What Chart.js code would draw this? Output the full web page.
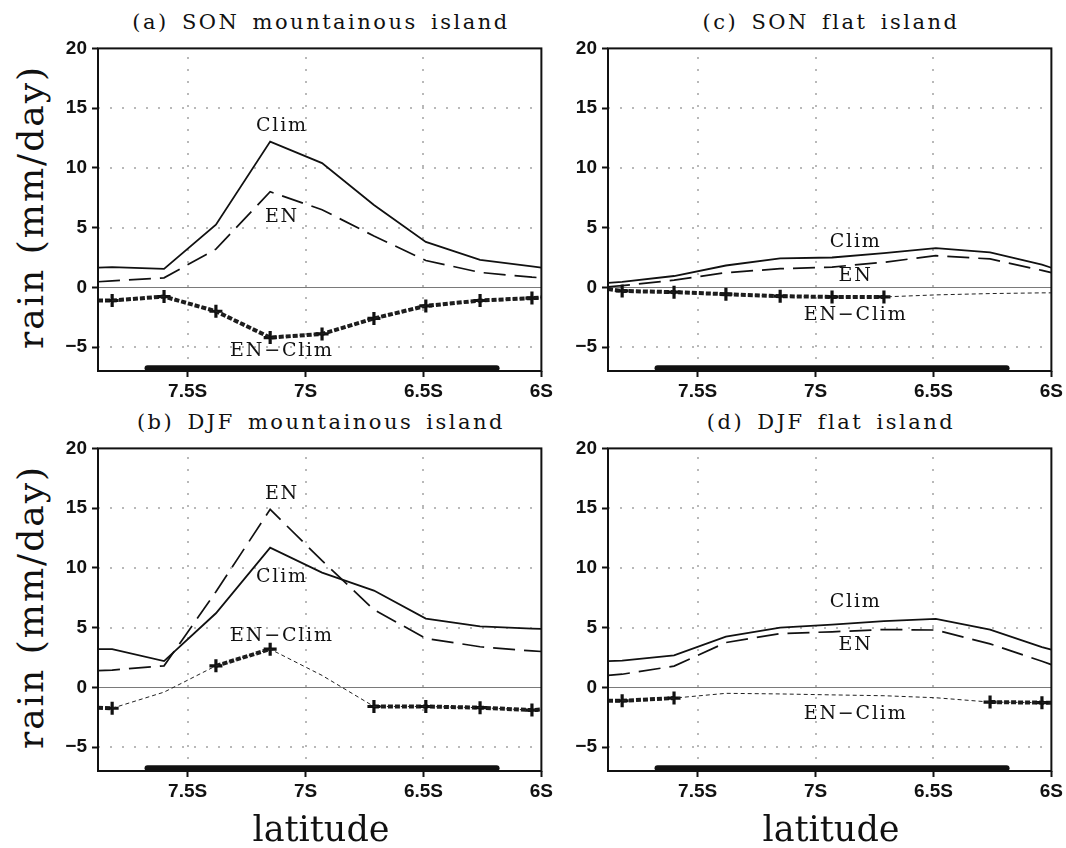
<!DOCTYPE html>
<html lang="en">
<head>
<meta charset="UTF-8">
<title>Rain across the island</title>
<script src="https://cdn.jsdelivr.net/npm/chart.js"></script>
<style>
  html, body { margin: 0; overflow: hidden; }
  body { width: 1066px; height: 848px; position: relative; background: #fff; color: #111; font-family: "DejaVu Serif", serif; }
  .panel { position: absolute; }
  .title { position: absolute; width: 446px; text-align: center; font-size: 21px; letter-spacing: 2.5px; word-spacing: 4px; line-height: 1; }
  .ylab { position: absolute; left: 31px; font-size: 36px; letter-spacing: 2px; white-space: nowrap; line-height: 1; transform: translate(-50%, -50%) rotate(-90deg); }
  .xlab { position: absolute; top: 812px; font-size: 35px; line-height: 1; transform: translateX(-50%); }
</style>
</head>
<body>
  <div class="ylab" style="top:207px">rain (mm/day)</div>
  <div class="ylab" style="top:607px">rain (mm/day)</div>

  <div class="title" style="left:98px;top:12px">(a) SON mountainous island</div>
  <div class="title" style="left:608px;top:12px">(c) SON flat island</div>
  <div class="title" style="left:98px;top:412px">(b) DJF mountainous island</div>
  <div class="title" style="left:608px;top:412px">(d) DJF flat island</div>

  <canvas class="panel" id="pa" width="526" height="379" style="left:30px;top:32px"></canvas>
  <canvas class="panel" id="pc" width="526" height="379" style="left:540px;top:32px"></canvas>
  <canvas class="panel" id="pb" width="526" height="379" style="left:30px;top:432px"></canvas>
  <canvas class="panel" id="pd" width="526" height="379" style="left:540px;top:432px"></canvas>

  <div class="xlab" style="left:321px">latitude</div>
  <div class="xlab" style="left:831px">latitude</div>

<script>
// latitude (negative = south); first and last entries are where the lines meet the frame
const lats = [-7.88, -7.82, -7.60, -7.38, -7.15, -6.93, -6.71, -6.49, -6.26, -6.04, -6.00];

const sonMountClim = [1.65, 1.7, 1.55, 5.25, 12.2, 10.4, 6.9, 3.8, 2.3, 1.75, 1.65];
const sonMountEN   = [0.47, 0.55, 0.8, 3.2, 8.0, 6.5, 4.3, 2.25, 1.25, 0.85, 0.8];
const sonMountDiff = [-1.1, -1.1, -0.77, -2.0, -4.2, -3.9, -2.6, -1.55, -1.1, -0.9, -0.85];
const sonMountSig  = [1, 1, 1, 1, 1, 1, 1, 1, 1, 1, 1];

const djfMountClim = [3.2, 3.2, 2.2, 6.2, 11.7, 9.6, 8.1, 5.75, 5.1, 4.92, 4.9];
const djfMountEN   = [1.4, 1.45, 1.8, 8.0, 14.9, 10.6, 6.5, 4.1, 3.4, 3.05, 3.0];
const djfMountDiff = [-1.7, -1.75, -0.4, 1.8, 3.2, 1.0, -1.6, -1.6, -1.7, -1.9, -1.85];
const djfMountSig  = [1, 1, 0, 1, 1, 0, 1, 1, 1, 1, 1];

const sonFlatClim = [0.38, 0.46, 0.95, 1.83, 2.43, 2.5, 2.87, 3.28, 2.92, 1.9, 1.64];
const sonFlatEN   = [0.05, 0.14, 0.6, 1.23, 1.56, 1.7, 2.1, 2.65, 2.38, 1.42, 1.23];
const sonFlatDiff = [-0.14, -0.3, -0.4, -0.57, -0.74, -0.8, -0.8, -0.63, -0.52, -0.46, -0.46];
const sonFlatSig  = [1, 1, 1, 1, 1, 1, 1, 0, 0, 0, 0];

const djfFlatClim = [2.19, 2.24, 2.68, 4.24, 5.0, 5.25, 5.55, 5.74, 4.84, 3.37, 3.15];
const djfFlatEN   = [1.0, 1.1, 1.78, 3.75, 4.5, 4.65, 4.84, 4.8, 3.64, 2.19, 1.9];
const djfFlatDiff = [-1.12, -1.12, -0.9, -0.5, -0.55, -0.63, -0.7, -0.87, -1.23, -1.28, -1.28];
const djfFlatSig  = [1, 1, 1, 0, 0, 0, 0, 0, 1, 1, 1];

// island extent (the thick bar along the bottom)
const landLats = [-7.67, -6.19];

const xTicks = [-7.5, -7, -6.5, -6];
const xTickLabels = ['7.5S', '7S', '6.5S', '6S'];
const yTicks = [-5, 0, 5, 10, 15, 20];

// curve names written inside each panel: [text, lat, rain]
const notesA = [['Clim', -7.10, 13.5], ['EN', -7.10, 5.9], ['EN\u2212Clim', -7.10, -5.3]];
const notesB = [['EN', -7.10, 16.2], ['Clim', -7.10, 9.2], ['EN\u2212Clim', -7.10, 4.3]];
const notesC = [['Clim', -6.83, 3.8], ['EN', -6.83, 0.95], ['EN\u2212Clim', -6.83, -2.3]];
const notesD = [['Clim', -6.83, 7.1], ['EN', -6.83, 3.55], ['EN\u2212Clim', -6.83, -2.25]];

const ink = '#111';
const tickFont = { family: 'Liberation Sans', size: 19, weight: 'bold' };

const decor = {
    id: 'decor',
    beforeDatasetsDraw(chart) {
        const { ctx, chartArea: a, scales: { x, y } } = chart;
        ctx.save();
        ctx.strokeStyle = '#a3a3a3';
        ctx.lineWidth = 1.5;
        ctx.setLineDash([2, 10]);
        xTicks.slice(0, -1).forEach(v => {
            const px = Math.round(x.getPixelForValue(v));
            ctx.beginPath(); ctx.moveTo(px, a.bottom); ctx.lineTo(px, a.top); ctx.stroke();
        });
        yTicks.filter(v => v !== 0 && v !== 20).forEach(v => {
            const py = Math.round(y.getPixelForValue(v));
            ctx.beginPath(); ctx.moveTo(a.left, py); ctx.lineTo(a.right, py); ctx.stroke();
        });
        ctx.setLineDash([]);
        ctx.strokeStyle = '#7a7a7a';
        ctx.lineWidth = 1;
        const p0 = Math.round(y.getPixelForValue(0)) + 0.5;
        ctx.beginPath(); ctx.moveTo(a.left, p0); ctx.lineTo(a.right, p0); ctx.stroke();
        ctx.restore();
    },
    afterDraw(chart) {
        const { ctx, chartArea: a, scales: { x, y } } = chart;
        ctx.save();
        ctx.strokeStyle = ink;
        ctx.lineWidth = 2;
        ctx.strokeRect(a.left, a.top, a.right - a.left, a.bottom - a.top);
        ctx.fillStyle = ink;
        ctx.font = '19px "DejaVu Serif"';
        ctx.letterSpacing = '1.8px';
        ctx.textAlign = 'center';
        ctx.textBaseline = 'middle';
        chart.options.plugins.decor.notes.forEach(([t, lx, ly]) => {
            ctx.fillText(t, x.getPixelForValue(lx), y.getPixelForValue(ly));
        });
        ctx.restore();
    }
};

function panel(id, clim, en, diff, sig, notes) {
    const pts = arr => lats.map((lat, i) => ({ x: lat, y: arr[i] }));
    const sigDiff = diff.map((v, i) => sig[i] ? v : null);
    const markR = lats.map((_, i) => (i === 0 || i === lats.length - 1) ? 0 : 6.5);

    new Chart(document.getElementById(id), {
        type: 'line',
        data: {
            datasets: [
                { data: pts(clim), borderColor: ink, borderWidth: 1.8, pointRadius: 0 },
                { data: pts(en), borderColor: ink, borderWidth: 1.7, borderDash: [22, 9], pointRadius: 0 },
                { data: pts(diff), borderColor: '#222', borderWidth: 1, borderDash: [4, 3], pointRadius: 0 },
                {
                    data: pts(sigDiff), borderColor: '#1c1c1c', borderWidth: 4, borderDash: [5, 2],
                    spanGaps: false, pointStyle: 'cross', pointRadius: markR,
                    pointBorderColor: ink, pointBorderWidth: 3.2
                },
                {
                    data: landLats.map(v => ({ x: v, y: -6.76 })), borderColor: ink,
                    borderWidth: 6, borderCapStyle: 'round', pointRadius: 0
                }
            ]
        },
        options: {
            responsive: false,
            animation: false,
            layout: { padding: { top: 10, right: 12, left: 0, bottom: 0 } },
            elements: { line: { tension: 0 } },
            events: [],
            plugins: { legend: { display: false }, tooltip: { enabled: false }, decor: { notes } },
            scales: {
                x: {
                    type: 'linear', min: -7.88, max: -6,
                    afterBuildTicks: ax => { ax.ticks = xTicks.map(v => ({ value: v })); },
                    afterFit: ax => { ax.height = 40; },
                    grid: { drawOnChartArea: false, tickLength: 6, tickWidth: 2, tickColor: ink },
                    border: { display: false },
                    ticks: {
                        callback: (v, i) => xTickLabels[i], font: tickFont, color: ink,
                        padding: 3, maxRotation: 0, autoSkip: false
                    }
                },
                y: {
                    min: -7, max: 20,
                    afterBuildTicks: ax => { ax.ticks = yTicks.map(v => ({ value: v })); },
                    afterFit: ax => { ax.width = 68; },
                    grid: { drawOnChartArea: false, tickLength: 6, tickWidth: 2, tickColor: ink },
                    border: { display: false },
                    ticks: {
                        callback: v => (v < 0 ? '\u2212' + Math.abs(v) : String(v)),
                        font: tickFont, color: ink, padding: 5
                    }
                }
            }
        },
        plugins: [decor]
    });
}

panel('pa', sonMountClim, sonMountEN, sonMountDiff, sonMountSig, notesA);
panel('pb', djfMountClim, djfMountEN, djfMountDiff, djfMountSig, notesB);
panel('pc', sonFlatClim, sonFlatEN, sonFlatDiff, sonFlatSig, notesC);
panel('pd', djfFlatClim, djfFlatEN, djfFlatDiff, djfFlatSig, notesD);
</script>
</body>
</html>
